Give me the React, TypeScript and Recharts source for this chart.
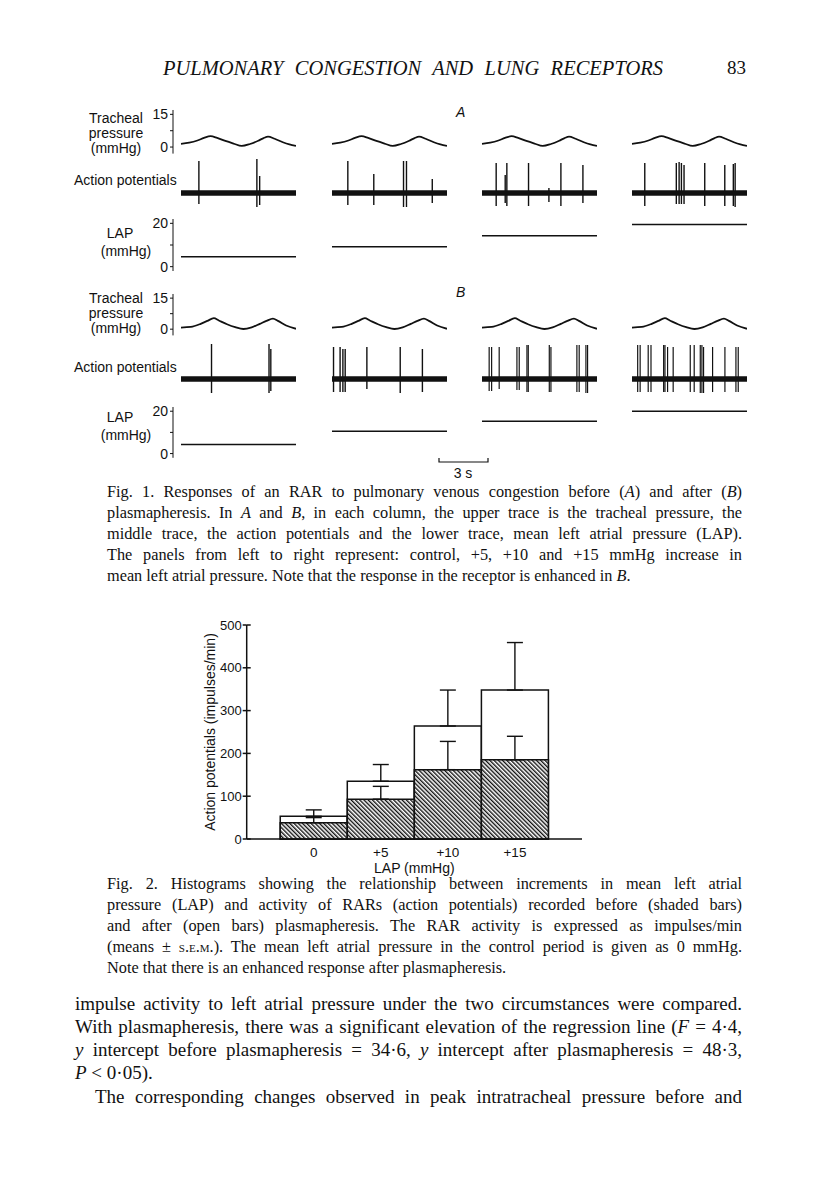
import React from "react";
import { BarChart, Bar, XAxis, YAxis, ErrorBar, LineChart, Line, ComposedChart } from "recharts";

// ---- Fig. 2 histogram values (impulses/min) ----
const lapSteps = [0, 5, 10, 15];
const openMeans = [53, 135, 264, 348];
const openSem = [15, 39, 84, 111];
const shadedMeans = [38, 93, 162, 185];
const shadedSem = [12, 30, 66, 55];
const yTicks = [0, 100, 200, 300, 400, 500];

// ---- Fig. 1 traces ----
const breathTimesA = [0, 0.5, 1.0, 1.4, 1.8, 2.2, 2.7, 3.2, 3.7, 4.2, 4.7, 5.0, 5.3, 5.7, 6.2, 6.6, 7.0];
const breathPressA = [1.5, 2.0, 3.0, 4.2, 5.0, 4.2, 2.8, 1.6, 0.5, 1.4, 2.9, 4.0, 4.8, 3.8, 2.2, 1.2, 0.5];
const breathTimesB = [0, 0.6, 1.2, 1.6, 2.0, 2.3, 2.8, 3.3, 3.8, 4.3, 4.8, 5.2, 5.6, 5.9, 6.4, 7.0];
const breathPressB = [0.8, 1.1, 2.6, 4.0, 5.3, 4.2, 2.4, 1.0, 0.1, 0.9, 2.6, 4.0, 5.1, 4.0, 1.8, 0.2];
const lapLevelsA = [4.6, 9.2, 14.3, 19.5];
const lapLevelsB = [4.3, 10.5, 15.3, 20];

// spikes: [time s, up, down]
const spikesA = [
  [[1.07, 3.2, -1.1], [4.6, 3.4, -1.4], [4.77, 1.7, -1.2]],
  [[0.95, 3.2, -1.2], [2.53, 1.9, -1.2], [4.34, 3.2, -1.4], [4.52, 3.2, -1.4], [6.09, 1.4, -1.0]],
  [[0.87, 3.0, -1.3], [1.42, 1.8, -1.0], [1.52, 3.0, -1.3], [2.84, 3.0, -1.3], [4.08, 0.5, -0.9], [4.81, 3.0, -1.3], [6.15, 2.8, -1.0]],
  [[0.79, 3.0, -1.3], [2.71, 3.0, -1.1], [2.88, 3.1, -1.1], [3.02, 3.0, -1.1], [3.18, 2.8, -1.1], [4.44, 3.0, -1.3], [5.66, 2.8, -1.3], [6.18, 2.9, -1.3], [6.29, 3.0, -1.4]],
];
const spikesB = [
  [[1.87, 3.5, -1.4], [5.37, 3.5, -1.4], [5.48, 3.0, -1.2]],
  [[0.1, 3.2, -1.3], [0.5, 3.2, -1.3], [0.67, 3.0, -1.3], [0.81, 3.0, -1.3], [2.13, 3.2, -1.0], [4.16, 3.2, -1.4], [5.51, 3.0, -1.3]],
  [[0.44, 3.2, -1.2], [0.59, 3.2, -1.2], [1.05, 3.2, -1.0], [2.13, 3.2, -1.1], [2.27, 3.2, -1.1], [2.74, 3.4, -1.3], [2.82, 3.4, -1.3], [4.1, 3.4, -1.3], [4.2, 3.2, -1.3], [5.78, 3.4, -1.3], [5.92, 3.4, -1.3], [6.33, 3.4, -1.4], [6.43, 3.4, -1.4]],
  [[0.35, 3.4, -1.3], [0.5, 3.4, -1.3], [0.99, 3.4, -1.3], [1.16, 3.4, -1.3], [1.93, 3.4, -1.3], [2.01, 3.4, -1.3], [2.17, 3.2, -1.3], [2.51, 3.2, -1.3], [3.55, 3.4, -1.3], [3.79, 3.4, -1.3], [4.16, 3.4, -1.4], [4.26, 3.4, -1.4], [4.36, 3.2, -1.4], [4.91, 3.2, -1.3], [5.66, 3.2, -1.3], [6.33, 3.2, -1.3], [6.47, 3.2, -1.3]],
];

const columnStarts = [181, 331.5, 481.5, 632];
const panelSeconds = 7;

const sans = '"Liberation Sans", Arial, sans-serif';
const serif = '"Liberation Serif", "Times New Roman", serif';
const ink = "#111";

type RowGeom = {
  press: [number, number];
  spike: [number, number, number, number];
  lap: [number, number];
};
const rowA: RowGeom = { press: [109.6, 43.6], spike: [158, 50, -1.5, 3.5], lap: [219, 52] };
const rowB: RowGeom = { press: [294.2, 41.4], spike: [341, 54, -1.6, 3.8], lap: [406.8, 50.8] };

const pad = 8;

const Trace = ({ left, top, height, children }: any) => (
  <div style={{ position: "absolute", left: left - 38, top: top - pad }}>{children(153, height + pad * 2)}</div>
);

const bracketTick = { fontSize: 14, fontFamily: sans, fill: ink };

const Panel = ({ col, geom, times, press, lap, spikes }: any) => {
  const left = columnStarts[col];
  const pressRows = times.map((t: number, i: number) => ({ t, p: press[i] }));
  const lapRows = [{ t: 0, v: lap }, { t: panelSeconds, v: lap }];
  const spikeRows = [
    { t: 0, base: 0 },
    ...spikes.map((s: number[]) => ({ t: s[0], range: [s[2], s[1]] })),
    { t: panelSeconds, base: 0 },
  ];
  const showAxis = col === 0;
  const xa = (
    <XAxis type="number" dataKey="t" domain={[0, panelSeconds]} hide padding={{ left: pad, right: 0 }} />
  );
  return (
    <>
      <Trace left={left} top={geom.press[0]} height={geom.press[1]}>
        {(w: number, h: number) => (
          <LineChart width={w} height={h} data={pressRows} margin={{ top: pad, bottom: pad, left: 0, right: 0 }}>
            {xa}
            <YAxis
              width={30}
              domain={[-3, 17]}
              ticks={[0, 7.5, 15]}
              tickFormatter={(v: number) => (v === 7.5 ? "" : String(v))}
              axisLine={showAxis ? { stroke: ink } : false}
              tickLine={showAxis ? { stroke: ink } : false}
              tick={showAxis ? bracketTick : false}
              tickSize={3}
              tickMargin={2}
            />
            <Line type="monotone" dataKey="p" stroke={ink} strokeWidth={1.8} dot={false} isAnimationActive={false} />
          </LineChart>
        )}
      </Trace>
      <Trace left={left} top={geom.spike[0]} height={geom.spike[1]}>
        {(w: number, h: number) => (
          <ComposedChart width={w} height={h} data={spikeRows} margin={{ top: pad, bottom: pad, left: 0, right: 0 }}>
            {xa}
            <YAxis width={30} domain={[geom.spike[2], geom.spike[3]]} axisLine={false} tickLine={false} tick={false} />
            <Line dataKey="base" stroke={ink} strokeWidth={5.5} dot={false} connectNulls isAnimationActive={false} />
            <Bar dataKey="range" fill={ink} barSize={1.4} isAnimationActive={false} />
          </ComposedChart>
        )}
      </Trace>
      <Trace left={left} top={geom.lap[0]} height={geom.lap[1]}>
        {(w: number, h: number) => (
          <LineChart width={w} height={h} data={lapRows} margin={{ top: pad, bottom: pad, left: 0, right: 0 }}>
            {xa}
            <YAxis
              width={30}
              domain={[-2, 22]}
              ticks={[0, 10, 20]}
              tickFormatter={(v: number) => (v === 10 ? "" : String(v))}
              axisLine={showAxis ? { stroke: ink } : false}
              tickLine={showAxis ? { stroke: ink } : false}
              tick={showAxis ? bracketTick : false}
              tickSize={3}
              tickMargin={2}
            />
            <Line dataKey="v" stroke={ink} strokeWidth={1.5} dot={false} isAnimationActive={false} />
          </LineChart>
        )}
      </Trace>
    </>
  );
};

const Txt = ({ x, y, w, size, family, align, children, style }: any) => (
  <div
    style={{
      position: "absolute",
      left: x,
      top: y - 12,
      width: w,
      lineHeight: "24px",
      fontSize: size,
      fontFamily: family,
      color: ink,
      textAlign: align || "left",
      ...(align === "justify" ? { textAlignLast: "justify" } : {}),
      ...style,
    }}
  >
    {children}
  </div>
);

const YTick = (props: any) => {
  const { x, y, payload } = props;
  return (
    <g>
      <line x1={x + 5} x2={x + 9} y1={y} y2={y} stroke={ink} strokeWidth={1.5} />
      <text x={x} y={y} dy={4.5} textAnchor="end" fontSize={13} fontFamily={sans} fill={ink}>
        {payload.value}
      </text>
    </g>
  );
};

const histRows = lapSteps.map((lap, i) => ({
  lap,
  open: openMeans[i],
  openErr: [0, openSem[i]],
  shaded: shadedMeans[i],
  shadedErr: [0, shadedSem[i]],
}));

const Histogram = () => (
  <div style={{ position: "absolute", left: 180, top: 600 }}>
    <BarChart
      width={420}
      height={290}
      data={histRows}
      margin={{ top: 25, right: 18, bottom: 12, left: 0 }}
      barCategoryGap={0}
      barGap={0}
    >
      <defs>
        <pattern id="hatch" patternUnits="userSpaceOnUse" width={3} height={3} patternTransform="rotate(-45)">
          <rect width={3} height={3} fill="#fff" />
          <line x1={0.7} y1={0} x2={0.7} y2={3} stroke={ink} strokeWidth={1.4} />
        </pattern>
      </defs>
      <XAxis
        xAxisId="open"
        type="number"
        dataKey="lap"
        domain={[-5, 20]}
        ticks={lapSteps}
        tickFormatter={(v: number) => (v === 0 ? "0" : `+${v}`)}
        tickLine={false}
        axisLine={{ stroke: ink, strokeWidth: 1.5 }}
        tick={{ fontSize: 13.5, fontFamily: sans, fill: ink }}
        height={39}
        label={{ value: "LAP (mmHg)", position: "insideBottom", offset: 5, fontSize: 14, fontFamily: sans, fill: ink }}
      />
      <XAxis xAxisId="shaded" type="number" dataKey="lap" domain={[-5, 20]} hide />
      <YAxis
        width={66.7}
        domain={[0, 500]}
        ticks={yTicks}
        axisLine={{ stroke: ink, strokeWidth: 1.5 }}
        tickLine={{ stroke: ink, strokeWidth: 1.5 }}
        tickSize={4}
        tickMargin={1}
        tick={<YTick />}
      />
      <Bar xAxisId="open" dataKey="open" fill="#fff" stroke={ink} strokeWidth={1.5} barSize={67} isAnimationActive={false}>
        <ErrorBar dataKey="openErr" width={8} stroke={ink} strokeWidth={1.4} direction="y" />
      </Bar>
      <Bar xAxisId="shaded" dataKey="shaded" fill="url(#hatch)" stroke={ink} strokeWidth={1.5} barSize={67} isAnimationActive={false}>
        <ErrorBar dataKey="shadedErr" width={8} stroke={ink} strokeWidth={1.4} direction="y" />
      </Bar>
    </BarChart>
    <div
      style={{
        position: "absolute",
        left: 30 - 120,
        top: 132 - 10,
        width: 240,
        height: 20,
        lineHeight: "20px",
        textAlign: "center",
        fontSize: 14,
        fontFamily: sans,
        color: ink,
        transform: "rotate(-90deg)",
      }}
    >
      Action potentials (impulses/min)
    </div>
  </div>
);

const TraceLabels = ({ top, lapTop, apY }: any) => (
  <>
    <div
      style={{
        position: "absolute",
        left: 76,
        top,
        width: 80,
        textAlign: "center",
        fontFamily: sans,
        fontSize: 14,
        lineHeight: "15.3px",
        color: ink,
      }}
    >
      Tracheal
      <br />
      pressure
      <br />
      (mmHg)
    </div>
    <Txt x={74} y={apY} size={14} family={sans}>Action potentials</Txt>
    <Txt x={90} y={lapTop} w={60} size={14} family={sans} align="center">LAP</Txt>
    <Txt x={96} y={lapTop + 18} w={60} size={14} family={sans} align="center">(mmHg)</Txt>
  </>
);

const cap1 = [
  <>Fig. 1. Responses of an RAR to pulmonary venous congestion before (<i>A</i>) and after (<i>B</i>)</>,
  <>plasmapheresis. In <i>A</i> and <i>B</i>, in each column, the upper trace is the tracheal pressure, the</>,
  <>middle trace, the action potentials and the lower trace, mean left atrial pressure (LAP).</>,
  <>The panels from left to right represent: control, +5, +10 and +15 mmHg increase in</>,
];
const cap1Last = <>mean left atrial pressure. Note that the response in the receptor is enhanced in <i>B</i>.</>;

const cap2 = [
  <>Fig. 2. Histograms showing the relationship between increments in mean left atrial</>,
  <>pressure (LAP) and activity of RARs (action potentials) recorded before (shaded bars)</>,
  <>and after (open bars) plasmapheresis. The RAR activity is expressed as impulses/min</>,
  <>(means ± <span style={{ fontVariant: "small-caps" }}>s.e.m.</span>). The mean left atrial pressure in the control period is given as 0 mmHg.</>,
];
const cap2Last = <>Note that there is an enhanced response after plasmapheresis.</>;

const body = [
  <>impulse activity to left atrial pressure under the two circumstances were compared.</>,
  <>With plasmapheresis, there was a significant elevation of the regression line (<i>F</i> = 4·4,</>,
  <><i>y</i> intercept before plasmapheresis = 34·6, <i>y</i> intercept after plasmapheresis = 48·3,</>,
];

export default function App() {
  return (
    <div style={{ position: "absolute", left: 0, top: 0, width: 816, height: 1203, background: "#fff", overflow: "hidden" }}>
      <Txt x={163} y={68} w={500} size={20.5} family={serif} align="justify" style={{ fontStyle: "italic" }}>
        PULMONARY CONGESTION AND LUNG RECEPTORS
      </Txt>
      <Txt x={727} y={68} size={19} family={serif}>83</Txt>

      {/* Fig. 1 */}
      <Txt x={456} y={112} size={14} family={sans} style={{ fontStyle: "italic" }}>A</Txt>
      <Txt x={456} y={292} size={14} family={sans} style={{ fontStyle: "italic" }}>B</Txt>
      <TraceLabels top={110.5} lapTop={233} apY={180} />
      <TraceLabels top={290.5} lapTop={417} apY={367} />
      {columnStarts.map((_, c) => (
        <Panel key={"a" + c} col={c} geom={rowA} times={breathTimesA} press={breathPressA} lap={lapLevelsA[c]} spikes={spikesA[c]} />
      ))}
      {columnStarts.map((_, c) => (
        <Panel key={"b" + c} col={c} geom={rowB} times={breathTimesB} press={breathPressB} lap={lapLevelsB[c]} spikes={spikesB[c]} />
      ))}
      <svg style={{ position: "absolute", left: 436, top: 454 }} width={56} height={12}>
        <path d="M3 4 V8 H52 V4" fill="none" stroke={ink} strokeWidth={1.2} />
      </svg>
      <Txt x={443} y={473} w={40} size={14} family={sans} align="center">3 s</Txt>

      {cap1.map((l, i) => (
        <Txt key={"c1" + i} x={107} y={492 + i * 21} w={635} size={16.3} family={serif} align="justify">{l}</Txt>
      ))}
      <Txt x={107} y={576} size={16.3} family={serif}>{cap1Last}</Txt>

      <Histogram />

      {cap2.map((l, i) => (
        <Txt key={"c2" + i} x={107} y={884 + i * 21} w={635} size={16.3} family={serif} align="justify">{l}</Txt>
      ))}
      <Txt x={107} y={968} size={16.3} family={serif}>{cap2Last}</Txt>

      {body.map((l, i) => (
        <Txt key={"b" + i} x={75} y={1004 + i * 23} w={667} size={19} family={serif} align="justify">{l}</Txt>
      ))}
      <Txt x={75} y={1073} size={19} family={serif}><i>P</i> &lt; 0·05).</Txt>
      <Txt x={95} y={1097} w={647} size={19} family={serif} align="justify">
        The corresponding changes observed in peak intratracheal pressure before and
      </Txt>
    </div>
  );
}
